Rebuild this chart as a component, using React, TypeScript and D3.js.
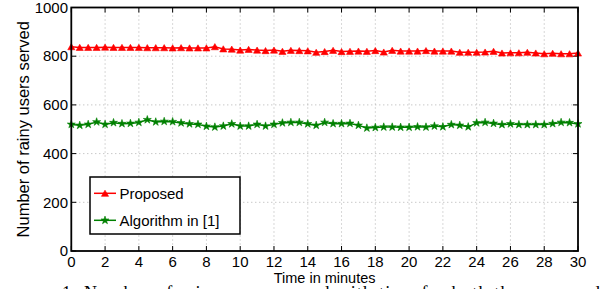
import React from "react";
import * as d3 from "d3";

const times = [
  0, 0.5, 1, 1.5, 2, 2.5, 3, 3.5, 4, 4.5, 5, 5.5, 6, 6.5, 7, 7.5, 8, 8.5, 9, 9.5,
  10, 10.5, 11, 11.5, 12, 12.5, 13, 13.5, 14, 14.5, 15, 15.5, 16, 16.5, 17, 17.5,
  18, 18.5, 19, 19.5, 20, 20.5, 21, 21.5, 22, 22.5, 23, 23.5, 24, 24.5, 25, 25.5,
  26, 26.5, 27, 27.5, 28, 28.5, 29, 29.5, 30,
];

const proposed = [
  839, 836, 836, 836, 837, 836, 836, 836, 836, 835, 835, 835, 834, 835, 834, 834,
  834, 839, 830, 829, 825, 828, 825, 823, 825, 820, 824, 823, 822, 816, 819,
  824, 819, 820, 821, 820, 823, 817, 824, 821, 821, 821, 823, 821, 821, 821,
  816, 816, 816, 817, 820, 813, 814, 814, 816, 813, 810, 812, 810, 810, 813,
];

const algorithm1 = [
  520, 516, 520, 530, 520, 527, 523, 524, 528, 539, 530, 532, 531, 526, 522, 520,
  512, 509, 513, 522, 513, 513, 520, 513, 520, 526, 528, 528, 522, 516, 528,
  523, 523, 524, 516, 505, 507, 509, 509, 508, 508, 510, 509, 513, 510, 519,
  516, 510, 526, 528, 524, 519, 522, 519, 519, 519, 519, 523, 528, 527, 522,
];

const xTicks = [0, 2, 4, 6, 8, 10, 12, 14, 16, 18, 20, 22, 24, 26, 28, 30];
const yTicks = [0, 200, 400, 600, 800, 1000];
const seriesNames = ["Proposed", "Algorithm in [1]"];
const xLabel = "Time in minutes";
const yLabel = "Number of rainy users served";
const captionWords = ["1:", "Number", "of", "rainy", "users", "served", "with", "time", "for", "both", "the", "proposed"];

const W = 600;
const H = 289;
const left = 71.3;
const right = 578;
const top = 7.5;
const bottom = 251;
const FONT = "'Liberation Sans', Arial, Helvetica, sans-serif";

export default function App() {
  const x = d3.scaleLinear().domain([0, 30]).range([left, right]);
  const y = d3.scaleLinear().domain([0, 1000]).range([bottom, top]);

  const line = d3
    .line<number>()
    .x((_, i) => x(times[i]))
    .y((d) => y(d));

  const tri = d3.symbol().type(d3.symbolTriangle).size(22)()!;
  const star = d3.symbol().type(d3.symbolStar).size(20)()!;

  const series = [
    { name: seriesNames[0], data: proposed, color: "#ff0000", marker: tri, dy: 1 },
    { name: seriesNames[1], data: algorithm1, color: "#008000", marker: star, dy: 0 },
  ];

  const legX = 90;
  const legY = 177;
  const legW = 150;
  const legH = 57;

  return (
    <svg
      width={W}
      height={H}
      style={{ position: "absolute", left: 0, top: 0, background: "#fff" }}
      fontFamily={FONT}
    >
      <rect x={0} y={0} width={W} height={H} fill="#fff" />
      {/* grid */}
      {xTicks
        .filter((t) => t > 0 && t < 30)
        .map((t) => (
          <line
            key={"gx" + t}
            x1={x(t)}
            x2={x(t)}
            y1={top}
            y2={bottom}
            stroke="#b0b0b0"
            strokeWidth={1}
            strokeDasharray="1,3"
          />
        ))}
      {yTicks
        .filter((t) => t > 0 && t < 1000)
        .map((t) => (
          <line
            key={"gy" + t}
            x1={left}
            x2={right}
            y1={y(t)}
            y2={y(t)}
            stroke="#b0b0b0"
            strokeWidth={1}
            strokeDasharray="1,3"
          />
        ))}
      {/* ticks */}
      {xTicks.map((t) => (
        <g key={"tx" + t}>
          <line x1={x(t)} x2={x(t)} y1={bottom} y2={bottom - 5} stroke="#000" />
          <line x1={x(t)} x2={x(t)} y1={top} y2={top + 5} stroke="#000" />
          <text x={x(t)} y={266.8} fontSize={15} textAnchor="middle" fill="#000">
            {t}
          </text>
        </g>
      ))}
      {yTicks.map((t) => (
        <g key={"ty" + t}>
          <line x1={left} x2={left + 5} y1={y(t)} y2={y(t)} stroke="#000" />
          <line x1={right} x2={right - 5} y1={y(t)} y2={y(t)} stroke="#000" />
          <text x={68} y={y(t) + 5.2} fontSize={15} textAnchor="end" fill="#000">
            {t}
          </text>
        </g>
      ))}
      {/* series */}
      {series.map((s) => (
        <g key={s.name}>
          <path d={line(s.data)!} fill="none" stroke={s.color} strokeWidth={1.5} />
          {s.data.map((v, i) => (
            <path
              key={i}
              d={s.marker}
              transform={`translate(${x(times[i])},${y(v) + s.dy})`}
              fill={s.color}
              stroke={s.color}
              strokeWidth={0.6}
            />
          ))}
        </g>
      ))}
      {/* axes box */}
      <rect
        x={left}
        y={top}
        width={right - left}
        height={bottom - top}
        fill="none"
        stroke="#000"
        strokeWidth={1.8}
      />
      {/* legend */}
      <rect x={legX} y={legY} width={legW} height={legH} fill="#fff" stroke="#000" strokeWidth={1.5} />
      {series.map((s, i) => {
        const cy = 193.3 + i * 27;
        return (
          <g key={"leg" + s.name}>
            <line x1={94} x2={116} y1={cy} y2={cy} stroke={s.color} strokeWidth={1.5} />
            <path d={s.marker} transform={`translate(105,${cy + s.dy})`} fill={s.color} stroke={s.color} strokeWidth={0.6} />
            <text x={119.5} y={cy + 5.3} fontSize={15} fill="#000">
              {s.name}
            </text>
          </g>
        );
      })}
      {/* labels */}
      <text x={(left + right) / 2} y={283.3} fontSize={14.5} textAnchor="middle" fill="#000">
        {xLabel}
      </text>
      <text
        transform={`translate(28.5,${(top + bottom) / 2}) rotate(-90)`}
        fontSize={16.5}
        textAnchor="middle"
        fill="#000"
      >
        {yLabel}
      </text>
      {/* caption (cut off at the bottom edge, as in the reference) */}
      <text
        x={62}
        y={298.5}
        fontSize={18}
        fontFamily="'Liberation Serif', 'Times New Roman', serif"
        textLength={538}
        lengthAdjust="spacing"
        fill="#000"
      >
        {captionWords.join(" ")}
      </text>
    </svg>
  );
}
